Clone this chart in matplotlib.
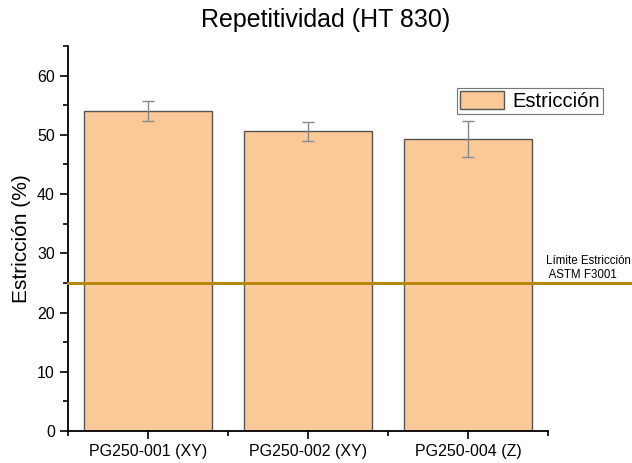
import matplotlib
matplotlib.use("Agg")
import matplotlib.pyplot as plt
from matplotlib.ticker import MultipleLocator

plt.rcParams['font.family'] = ['Liberation Sans', 'DejaVu Sans']

categories = ["PG250-001 (XY)", "PG250-002 (XY)", "PG250-004 (Z)"]
values = [54.0, 50.6, 49.3]
errors = [1.7, 1.6, 3.0]
limit = 25.0

fig = plt.figure(figsize=(6.32, 4.63), dpi=100)
ax = fig.add_axes([68/632, 32/463, 480/632, 385/463])

x = [1, 2, 3]
ax.bar(x, values, width=0.8, color="#FBC898", edgecolor="#555555", linewidth=1.0,
       label="Estricción", zorder=2)
ax.errorbar(x, values, yerr=errors, fmt="none", ecolor="#888888", elinewidth=1,
            capsize=4, capthick=1, zorder=3)

ax.axhline(limit, xmin=0, xmax=(632-68)/480, color="#B5880F", linewidth=2.2,
           clip_on=False, zorder=4)
ax.text(3.49, limit + 0.3, "Límite Estricción\n ASTM F3001", fontsize=8.3,
        ha="left", va="bottom", linespacing=1.2)

ax.set_xlim(0.5, 3.5)
ax.set_ylim(0, 65)
ax.set_xticks(x)
ax.set_xticklabels(categories, fontsize=11.5)
ax.set_xticks([0.5, 1.5, 2.5, 3.5], minor=True)
ax.yaxis.set_major_locator(MultipleLocator(10))
ax.yaxis.set_minor_locator(MultipleLocator(5))
ax.tick_params(axis="both", which="major", direction="out", length=6, width=1.2, labelsize=11.5)
ax.tick_params(axis="both", which="minor", direction="out", length=3.5, width=1.2)
for s in ["top", "right"]:
    ax.spines[s].set_visible(False)
for s in ["left", "bottom"]:
    ax.spines[s].set_linewidth(1.3)

ax.set_ylabel("Estricción (%)", fontsize=15)
fig.text(326/632, 1 - 20/463, "Repetitividad (HT 830)", fontsize=18, ha="center", va="center")

leg = ax.legend(loc="upper right", bbox_to_anchor=(603/632, 1 - 88/463), bbox_transform=fig.transFigure,
                fontsize=14.5, frameon=True, fancybox=False, edgecolor="#555555",
                borderpad=0.15, handlelength=2.2, handleheight=1.0, handletextpad=0.4, borderaxespad=0)
leg.get_frame().set_linewidth(0.8)

fig.savefig("out.png", dpi=100)
